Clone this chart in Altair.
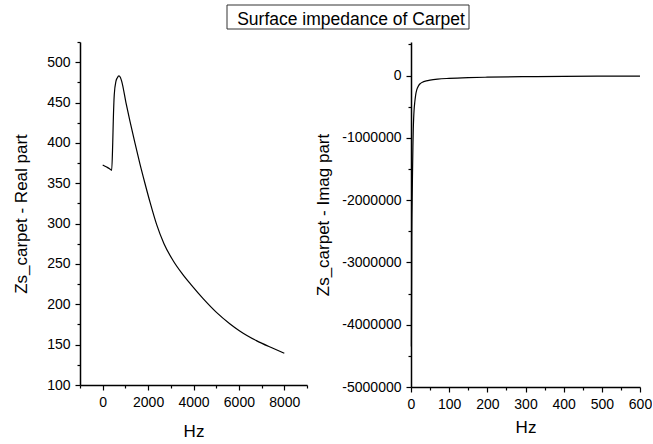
import altair as alt
import pandas as pd

# ---- data ----
real_hz = [0, 176, 300, 396, 440, 466, 510, 585, 640, 716, 780, 835, 1024, 1200, 1420, 1640, 1860,
           2100, 2374, 2700, 3105, 3500, 3900, 4424, 5011, 5596, 6035, 6769, 7500, 8000]
real_val = [372.5, 370, 368, 366, 398, 427, 460, 476.5, 480.5, 483, 481, 476.5, 450, 427, 400, 374, 350,
            325, 299, 275, 254, 238, 224, 207, 190, 176, 167, 155, 145.5, 139.3]

imag_hz = [1, 2, 3, 4, 5, 6, 7, 8, 10, 12, 15, 20, 25, 30, 40, 50, 70, 100, 150, 200, 300, 400, 500, 600]
imag_val = [-4350000, -2600000, -2000000, -1550000, -1150000, -850000, -680000, -560000, -420000,
            -320000, -230000, -160000, -125000, -105000, -85000, -72000, -56000, -44000, -32000,
            -25000, -17000, -12000, -9000, -7000]

real_x_ticks = list(range(-1000, 9001, 1000))
real_y_ticks = list(range(100, 526, 25))
imag_x_ticks = list(range(0, 601, 50))
imag_y_ticks = list(range(-5000000, 500001, 500000))

title_text = ["Surface impedance of Carpet"]

FONT = "Liberation Sans"

df_real = pd.DataFrame({"Hz": real_hz, "Re": real_val})
df_imag = pd.DataFrame({"Hz": imag_hz, "Im": imag_val})
df_title = pd.DataFrame({"t": title_text})


def axis(values, major, title, label_pad=5, title_pad=10):
    return alt.Axis(
        values=values,
        labelExpr=f"datum.value % {major} == 0 ? '' + datum.value : ''",
        tickSize={"condition": {"test": f"datum.value % {major} != 0", "value": 3}, "value": 5},
        title=title,
        labelPadding=label_pad,
        titlePadding=title_pad,
        grid=False,
        labelFlush=False,
        labelOverlap=False,
    )


line_left = alt.Chart(df_real).mark_line(color="black", strokeWidth=1.2, interpolate="monotone").encode(
    x=alt.X("Hz:Q", scale=alt.Scale(domain=[-1000, 9000], nice=False, zero=False),
            axis=axis(real_x_ticks, 2000, "Hz", 5, 14)),
    y=alt.Y("Re:Q", scale=alt.Scale(domain=[100, 525], nice=False, zero=False),
            axis=axis(real_y_ticks, 50, "Zs_carpet - Real part", 5, 16)),
)

# title box placed relative to the left plot's origin (plot left = 80, top = 41 in the page)
box = alt.Chart(df_title).mark_rect(fill="white", stroke="#333333", strokeWidth=1).encode(
    x=alt.value(227 - 80), x2=alt.value(469 - 80), y=alt.value(4 - 41), y2=alt.value(28 - 41)
)
txt = alt.Chart(df_title).mark_text(font=FONT, fontSize=17.5, color="black",
                                    align="center", baseline="alphabetic").encode(
    text="t:N", x=alt.value(351 - 80), y=alt.value(24 - 41)
)

left = alt.layer(line_left, box, txt).properties(width=227, height=343)

right = alt.Chart(df_imag).mark_line(color="black", strokeWidth=1.2, interpolate="monotone").encode(
    x=alt.X("Hz:Q", scale=alt.Scale(domain=[0, 600], nice=False, zero=False),
            axis=axis(imag_x_ticks, 100, "Hz", 5, 8)),
    y=alt.Y("Im:Q", scale=alt.Scale(domain=[-5000000, 540000], nice=False, zero=False),
            axis=axis(imag_y_ticks, 1000000, "Zs_carpet - Imag part", 5, 9)),
).properties(width=229, height=345)

chart = alt.hconcat(left, right, spacing=104, bounds="flush").properties(
    padding={"left": 12, "top": 4, "right": 0, "bottom": 0},
    background="white",
).configure_view(stroke=None).configure_axis(
    labelFont=FONT, labelFontSize=14, labelColor="black",
    titleFont=FONT, titleFontSize=17, titleFontWeight="normal", titleColor="black",
    domainColor="black", domainWidth=1.5, tickColor="black", tickWidth=1.2,
)

chart.save("out.html", embed_options={"renderer": "svg", "actions": False})
